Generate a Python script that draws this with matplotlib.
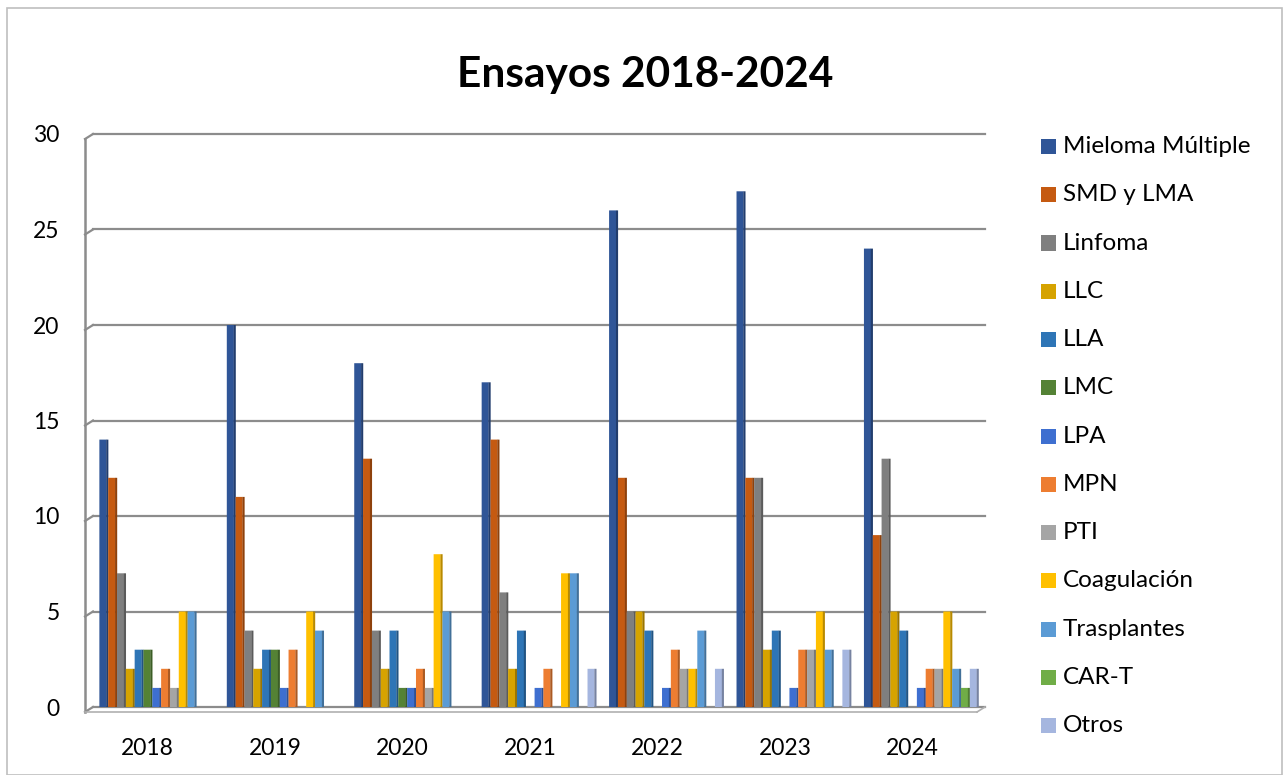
import matplotlib
matplotlib.use("Agg")
import matplotlib.pyplot as plt
from matplotlib.patches import Rectangle
import numpy as np
from matplotlib.colors import to_rgb

plt.rcParams['font.family'] = ['Lato', 'DejaVu Sans']

years = ["2018", "2019", "2020", "2021", "2022", "2023", "2024"]
series_names = ["Mieloma Múltiple", "SMD y LMA", "Linfoma", "LLC", "LLA", "LMC",
                "LPA", "MPN", "PTI", "Coagulación", "Trasplantes", "CAR-T", "Otros"]
mieloma = [14, 20, 18, 17, 26, 27, 24]
smd_lma = [12, 11, 13, 14, 12, 12, 9]
linfoma = [7, 4, 4, 6, 5, 12, 13]
llc = [2, 2, 2, 2, 5, 3, 5]
lla = [3, 3, 4, 4, 4, 4, 4]
lmc = [3, 3, 1, 0, 0, 0, 0]
lpa = [1, 1, 1, 1, 1, 1, 1]
mpn = [2, 3, 2, 2, 3, 3, 2]
pti = [1, 0, 1, 0, 2, 3, 2]
coagulacion = [5, 5, 8, 7, 2, 5, 5]
trasplantes = [5, 4, 5, 7, 4, 3, 2]
car_t = [0, 0, 0, 0, 0, 0, 1]
otros = [0, 0, 0, 2, 2, 3, 2]
series_values = [mieloma, smd_lma, linfoma, llc, lla, lmc, lpa, mpn, pti,
                 coagulacion, trasplantes, car_t, otros]
colors = ["#2F5597", "#C55A11", "#7F7F7F", "#D6A300", "#2E75B6", "#548235",
          "#3E6FD0", "#ED7D31", "#A5A5A5", "#FFC000", "#5B9BD5", "#70AD47", "#A5B6DF"]
yticks = [0, 5, 10, 15, 20, 25, 30]

W, H = 1287, 775
fig = plt.figure(figsize=(W / 100, H / 100), dpi=100)
fig.patch.set_facecolor("white")

# chart border
fig.patches.append(Rectangle((7 / W, 0), (1282 - 7) / W, (H - 8) / H,
                             transform=fig.transFigure, fill=False,
                             edgecolor="#BFBFBF", linewidth=1.2))

ax = fig.add_axes([93 / W, 1 - 707 / H, (985 - 93) / W, (707 - 134) / H])
ax.set_xlim(-0.5, 6.5)
ax.set_ylim(0, 30)
for s in ax.spines.values():
    s.set_visible(False)
ax.patch.set_alpha(0)

# gridlines and 3D wall
grid_col = "#8C8C8C"
dx = 8 / 127.4
dy = 5 * 30 / 573
for yv in yticks:
    ax.plot([-0.5, 6.5], [yv, yv], color=grid_col, lw=1.6, zorder=1, clip_on=False)
    ax.plot([-0.5 - dx, -0.5], [yv - dy, yv], color=grid_col, lw=1.6,
            zorder=1, clip_on=False)
ax.plot([-0.5 - dx] * 2, [0 - dy, 30 - dy], color=grid_col, lw=1.8, zorder=1,
        clip_on=False)
# floor front edge
ax.plot([-0.5 - dx, 6.5 - dx], [-dy] * 2, color="#B0B0B0", lw=1.2, zorder=1,
        clip_on=False)
ax.plot([6.5 - dx, 6.5], [-dy, 0], color="#B0B0B0", lw=1.2, zorder=1, clip_on=False)

n = len(series_names)
group_w = 0.9
bw = group_w / n
x = np.arange(len(years))
for i, (vals, col) in enumerate(zip(series_values, colors)):
    left = x - group_w / 2 + i * bw
    rgb = np.array(to_rgb(col))
    dark = tuple(rgb * 0.72)
    ax.bar(left, vals, width=bw * 0.8, align="edge", color=col, linewidth=0,
           zorder=3, snap=False)
    ax.bar(left + bw * 0.78, vals, width=bw * 0.24, align="edge", color=dark,
           linewidth=0, zorder=3, snap=False)

ax.set_yticks(yticks)
ax.set_yticklabels([str(v) for v in yticks], fontsize=16.5)
ax.tick_params(axis="y", length=0, pad=24)
ax.set_xticks(x - 0.07)
ax.set_xticklabels(years, fontsize=16.5)
ax.tick_params(axis="x", length=0, pad=22)

fig.text(0.501, 1 - 87 / H, "Ensayos 2018-2024", ha="center", va="baseline",
         fontsize=30.5, fontweight="bold")

# legend
for k, (name, col) in enumerate(zip(series_names, colors)):
    yc = 146.5 + 48.25 * k
    fig.patches.append(Rectangle((1041 / W, 1 - (yc + 7.5) / H), 15 / W, 15 / H,
                                 transform=fig.transFigure, facecolor=col,
                                 edgecolor="none"))
    fig.text(1063 / W, 1 - yc / H, name, ha="left", va="center", fontsize=17.5)

fig.savefig("out.png", dpi=100)
